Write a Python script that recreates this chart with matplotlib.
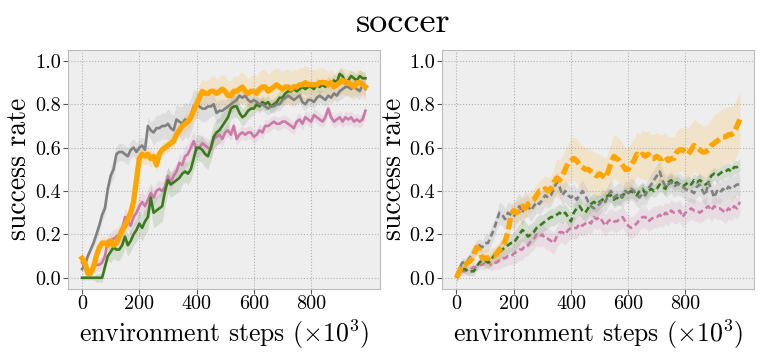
import numpy as np
import matplotlib
matplotlib.use("Agg")
import matplotlib.pyplot as plt

steps = list(range(0, 1000, 10))

# ---- left panel (solid) ----
left_orange = [.09,.07,.02,.02,.05,.10,.14,.16,.16,.15,
               .17,.15,.16,.19,.22,.24,.27,.30,.35,.45,
               .55,.57,.56,.57,.55,.56,.52,.57,.59,.60,
               .61,.62,.63,.66,.68,.70,.71,.72,.74,.77,
               .80,.83,.86,.85,.85,.86,.86,.85,.86,.87,
               .86,.84,.84,.86,.86,.87,.88,.86,.85,.86,
               .86,.85,.87,.88,.88,.86,.87,.88,.89,.88,
               .87,.88,.88,.87,.88,.88,.89,.89,.90,.89,
               .89,.89,.89,.90,.90,.90,.89,.90,.88,.89,
               .90,.91,.90,.90,.89,.88,.90,.90,.89,.88]
left_gray = [.04,.06,.10,.13,.16,.20,.24,.29,.32,.41,
             .47,.50,.57,.58,.58,.57,.56,.59,.60,.58,
             .60,.61,.59,.70,.68,.67,.69,.69,.70,.70,
             .71,.69,.68,.73,.72,.71,.73,.72,.75,.79,
             .80,.79,.78,.78,.79,.79,.80,.76,.77,.77,
             .78,.79,.80,.81,.82,.84,.83,.84,.82,.81,
             .82,.81,.80,.80,.79,.78,.79,.79,.80,.80,
             .82,.83,.84,.83,.82,.83,.84,.81,.80,.82,
             .82,.81,.83,.84,.83,.82,.84,.83,.85,.84,
             .86,.87,.88,.88,.87,.88,.87,.86,.89,.87]
left_green = [0,0,0,0,0,0,0,0,.05,.10,
              .12,.14,.13,.13,.15,.19,.15,.17,.20,.22,
              .25,.23,.26,.28,.37,.30,.31,.32,.33,.40,
              .45,.43,.44,.45,.46,.48,.49,.48,.50,.55,
              .60,.60,.59,.57,.56,.60,.65,.67,.68,.70,
              .72,.74,.78,.79,.79,.76,.74,.75,.77,.78,
              .78,.80,.79,.81,.80,.81,.79,.80,.81,.83,
              .83,.85,.86,.86,.87,.86,.87,.88,.87,.88,
              .88,.87,.89,.88,.89,.88,.90,.89,.91,.90,
              .94,.93,.90,.91,.93,.92,.91,.93,.92,.92]
left_pink = [.07,.05,.04,.03,.05,.06,.06,.07,.10,.17,
             .17,.18,.19,.20,.22,.28,.26,.24,.28,.30,
             .33,.35,.33,.36,.39,.37,.40,.41,.40,.42,
             .47,.44,.47,.49,.53,.52,.56,.57,.60,.63,
             .59,.60,.62,.61,.60,.59,.64,.65,.66,.64,
             .67,.68,.66,.70,.64,.66,.67,.66,.67,.67,
             .65,.66,.68,.67,.70,.70,.71,.72,.71,.71,
             .72,.72,.71,.70,.69,.72,.73,.71,.74,.73,
             .72,.75,.74,.73,.72,.74,.78,.74,.72,.73,
             .74,.72,.74,.73,.74,.72,.73,.72,.73,.77]

# ---- right panel (dashed) ----
right_orange = [0,.03,.06,.06,.07,.08,.10,.14,.13,.09,
                .09,.09,.10,.10,.11,.13,.14,.17,.21,.29,
                .31,.30,.31,.33,.32,.34,.35,.36,.38,.40,
                .40,.41,.40,.41,.44,.46,.45,.47,.50,.53,
                .54,.55,.54,.52,.51,.50,.50,.49,.48,.47,
                .48,.47,.46,.49,.53,.56,.55,.54,.52,.50,
                .50,.52,.54,.57,.56,.57,.56,.57,.55,.55,
                .56,.55,.55,.56,.54,.55,.55,.58,.59,.59,
                .58,.57,.59,.61,.60,.59,.58,.58,.59,.61,
                .62,.63,.64,.65,.65,.66,.66,.67,.70,.73]
right_gray = [.01,.04,.07,.07,.08,.10,.12,.14,.15,.14,
              .16,.16,.19,.22,.26,.30,.29,.27,.30,.29,
              .28,.31,.33,.30,.34,.33,.31,.33,.35,.34,
              .36,.38,.37,.38,.41,.44,.42,.38,.40,.38,
              .37,.38,.36,.38,.40,.38,.35,.33,.32,.33,
              .34,.36,.35,.38,.40,.37,.38,.39,.37,.40,
              .39,.41,.40,.38,.37,.39,.38,.41,.43,.45,
              .47,.49,.45,.42,.43,.44,.42,.43,.43,.42,
              .41,.40,.40,.39,.42,.43,.40,.38,.44,.41,
              .37,.40,.39,.41,.40,.42,.41,.42,.43,.43]
right_green = [0,.02,.04,.04,.03,.03,.03,.05,.07,.08,
               .08,.07,.08,.10,.11,.12,.13,.14,.15,.16,
               .16,.18,.20,.22,.21,.19,.20,.21,.23,.24,
               .25,.26,.27,.28,.28,.29,.30,.29,.30,.28,
               .26,.30,.32,.33,.31,.30,.32,.34,.35,.34,
               .35,.36,.37,.38,.38,.36,.37,.36,.38,.39,
               .39,.40,.39,.38,.40,.41,.39,.40,.41,.40,
               .41,.43,.42,.41,.44,.45,.43,.44,.43,.42,
               .43,.44,.43,.45,.44,.45,.44,.43,.44,.47,
               .48,.47,.48,.49,.49,.50,.49,.51,.51,.52]
right_pink = [0,.03,.03,.03,.04,.04,.05,.05,.06,.06,
              .07,.08,.06,.07,.07,.08,.09,.09,.10,.10,
              .11,.12,.13,.13,.15,.15,.17,.18,.20,.19,
              .20,.18,.18,.17,.16,.19,.21,.21,.20,.22,
              .23,.23,.23,.25,.24,.25,.26,.25,.28,.27,
              .28,.26,.24,.26,.27,.26,.26,.27,.28,.26,
              .24,.23,.24,.25,.27,.28,.28,.26,.27,.28,
              .28,.29,.28,.30,.29,.31,.30,.30,.31,.28,
              .30,.31,.32,.31,.31,.30,.31,.32,.33,.31,
              .33,.32,.32,.31,.30,.32,.31,.33,.32,.35]

# band half-widths, one value per 50k steps
left_orange_sd = [.02,.03,.03,.04,.04,.03,.03,.04,.06,.07,.07,.07,.08,.08,.08,.08,.07,.06,.06,.06]
left_gray_sd   = [.02,.03,.04,.04,.04,.06,.07,.08,.06,.05,.04,.03,.03,.03,.03,.03,.03,.03,.04,.04]
left_green_sd  = [.01,.02,.05,.05,.06,.07,.06,.05,.06,.06,.05,.04,.03,.03,.03,.03,.03,.03,.03,.03]
left_pink_sd   = [.02,.03,.04,.04,.05,.04,.04,.05,.04,.04,.03,.03,.03,.03,.03,.03,.03,.03,.03,.03]
right_orange_sd = [.02,.03,.04,.04,.05,.05,.06,.09,.10,.10,.09,.10,.10,.11,.11,.10,.12,.12,.13,.13]
right_gray_sd   = [.02,.03,.04,.05,.06,.05,.05,.05,.05,.05,.05,.05,.05,.05,.05,.05,.05,.05,.05,.05]
right_green_sd  = [.02,.02,.03,.04,.05,.05,.04,.04,.04,.04,.03,.03,.03,.03,.03,.03,.03,.03,.03,.03]
right_pink_sd   = [.02,.02,.03,.04,.05,.05,.05,.05,.05,.05,.05,.05,.05,.05,.05,.05,.05,.05,.05,.05]

xticks = [0, 200, 400, 600, 800]
yticks = [0.0, 0.2, 0.4, 0.6, 0.8, 1.0]
title = "soccer"
xlabel = r"environment steps $(\times 10^3)$"
ylabel = "success rate"

plt.style.use("bmh")
plt.rcParams["font.family"] = ["cmr10", "DejaVu Serif"]
plt.rcParams["mathtext.fontset"] = "cm"
plt.rcParams["axes.formatter.use_mathtext"] = True
plt.rcParams["axes.unicode_minus"] = False

C_ORANGE = "#FFA500"
C_GRAY = "#808080"
C_GREEN = "#3B7A1E"
C_PINK = "#CC79A7"

fig = plt.figure(figsize=(7.61, 3.55), dpi=100)
axL = fig.add_axes([0.089, 0.187, 0.41, 0.672])
axR = fig.add_axes([0.581, 0.187, 0.41, 0.672])

x = np.array(steps)

def draw(ax, series, dashed):
    for y, sd, c, lw in series:
        y = np.array(y)
        s = np.repeat(np.array(sd), 5)
        ax.fill_between(x, y - s, y + s, color=c, alpha=0.15, lw=0)
    for y, sd, c, lw in series:
        if dashed:
            if c == C_ORANGE:
                ax.plot(x, y, color=c, lw=lw, ls=(0, (2.2, 0.8)))
            else:
                ax.plot(x, y, color=c, lw=lw, ls=(0, (2.4, 1.3)))
        else:
            ax.plot(x, y, color=c, lw=lw)

draw(axL, [(left_pink, left_pink_sd, C_PINK, 1.9),
           (left_green, left_green_sd, C_GREEN, 1.9),
           (left_gray, left_gray_sd, C_GRAY, 1.9),
           (left_orange, left_orange_sd, C_ORANGE, 3.8)], False)
draw(axR, [(right_pink, right_pink_sd, C_PINK, 1.9),
           (right_green, right_green_sd, C_GREEN, 1.9),
           (right_gray, right_gray_sd, C_GRAY, 1.9),
           (right_orange, right_orange_sd, C_ORANGE, 3.8)], True)

for ax in (axL, axR):
    ax.set_facecolor("#EEEEEE")
    ax.set_xlim(-50, 1040)
    ax.set_ylim(-0.05, 1.05)
    ax.set_xticks(xticks)
    ax.set_xticklabels([str(t) for t in xticks])
    ax.set_yticks(yticks)
    ax.set_yticklabels([f"{t:.1f}" for t in yticks])
    ax.grid(True, color="#B2B2B2", ls=":", lw=0.8)
    ax.tick_params(labelsize=14.5, direction="out", length=3.5, pad=1.5,
                   color="#555555")
    ax.set_xlabel(xlabel, fontsize=18.5, labelpad=3)
    ax.set_ylabel(ylabel, fontsize=20, labelpad=2)
    for sp in ax.spines.values():
        sp.set_color("#BCBCBC")

fig.suptitle(title, fontsize=26, x=0.53, y=0.98)
fig.savefig("out.png", dpi=100)
